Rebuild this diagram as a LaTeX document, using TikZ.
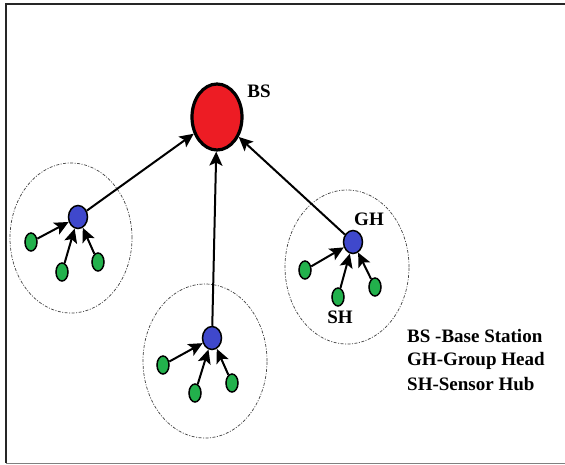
\documentclass[tikz,border=0pt]{standalone}
\usepackage{fontspec}
\setmainfont{Liberation Serif}
\usetikzlibrary{arrows.meta,shapes.geometric}
\definecolor{bsred}{RGB}{237,28,36}
\definecolor{ghblue}{RGB}{63,72,204}
\definecolor{shgreen}{RGB}{34,177,76}
\begin{document}
\begin{tikzpicture}[x=1pt, y=-1pt,
    bs/.style={ellipse, draw, line width=3.2pt, fill=bsred, minimum width=50pt, minimum height=66pt, inner sep=0pt},
    gh/.style={ellipse, draw, line width=1.5pt, fill=ghblue, minimum width=19pt, minimum height=23pt, inner sep=0pt},
    sh/.style={ellipse, draw, line width=1.5pt, fill=shgreen, minimum width=12pt, minimum height=18pt, inner sep=0pt},
    link/.style={line width=2pt, -{Stealth[length=14pt, width=13pt, inset=3pt]}},
    group/.style={black!75, line width=0.7pt, dash pattern=on 3pt off 1.5pt on 1pt off 1.5pt},
    lbl/.style={font=\fontsize{19}{22}\selectfont\bfseries, inner sep=0pt, anchor=base}]
    \useasboundingbox (0,0) rectangle (565,464);
    % frame
    \draw[line width=1.8pt, black!85] (565,4) -- (6,4) -- (6,463);
    \draw[line width=1pt, gray] (6,463) -- (565,463);

    % group borders
    \draw[group] (71,238) ellipse (61pt and 75pt);
    \draw[group] (205,361) ellipse (62pt and 77pt);
    \draw[group] (347,267) ellipse (62pt and 77pt);

    % base station
    \node[bs] (bs) at (217,117) {};
    \node[lbl] (bslbl) at (259,97) {BS};

    % left group
    \node[gh] (ghl) at (78,217) {};
    \node[sh] (shla) at (31,242) {};
    \node[sh] (shlb) at (62,272) {};
    \node[sh] (shlc) at (98,262) {};

    % bottom group
    \node[gh] (ghb) at (212,338) {};
    \node[sh] (shba) at (163,365) {};
    \node[sh] (shbb) at (195,393) {};
    \node[sh] (shbc) at (232,383) {};

    % right group
    \node[gh] (ghr) at (353,242) {};
    \node[sh] (shra) at (305,270) {};
    \node[sh] (shrb) at (338,297) {};
    \node[sh] (shrc) at (375,287) {};
    \node[lbl] (ghlbl) at (369,225) {GH};
    \node[lbl] (shlbl) at (340,323) {SH};

    % links
    \draw[link] (ghl) -- (bs);
    \draw[link] (ghb) -- (bs);
    \draw[link] (ghr) -- (bs);
    \draw[link] (shla) -- (ghl);
    \draw[link] (shlb) -- (ghl);
    \draw[link] (shlc) -- (ghl);
    \draw[link] (shba) -- (ghb);
    \draw[link] (shbb) -- (ghb);
    \draw[link] (shbc) -- (ghb);
    \draw[link] (shra) -- (ghr);
    \draw[link] (shrb) -- (ghr);
    \draw[link] (shrc) -- (ghr);

    % legend
    \node[lbl, anchor=base west] (lgbs) at (407,342) {BS -Base Station};
    \node[lbl, anchor=base west] (lggh) at (407,365) {GH-Group Head};
    \node[lbl, anchor=base west] (lgsh) at (407,390) {SH-Sensor Hub};
\end{tikzpicture}
\end{document}
